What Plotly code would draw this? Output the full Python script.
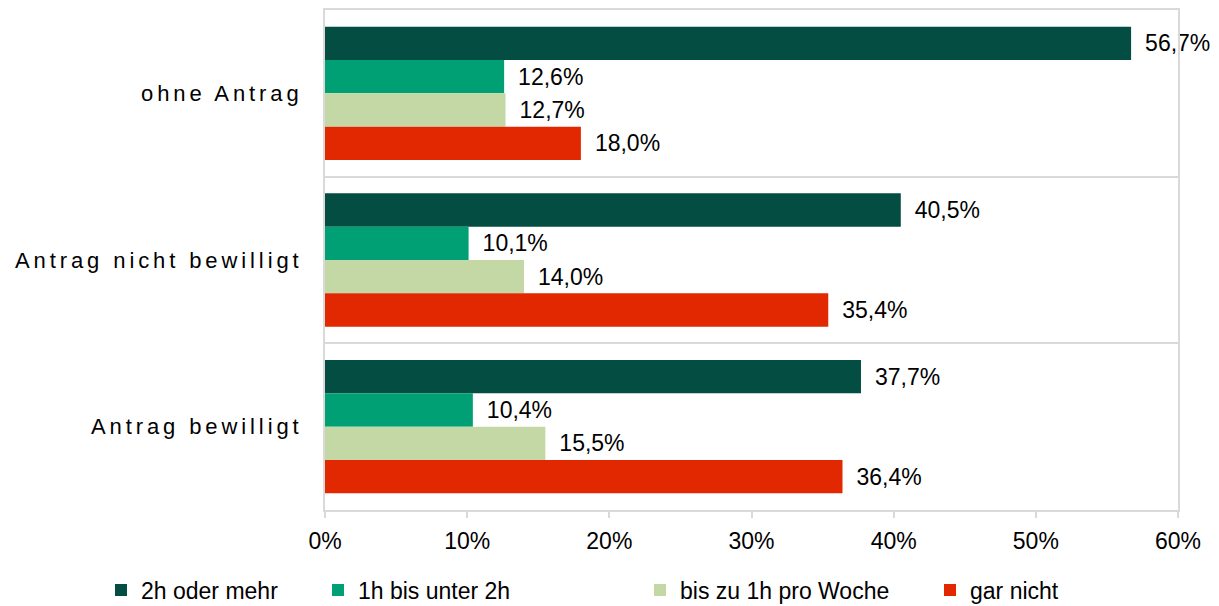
import plotly.graph_objects as go

categories = ["ohne Antrag", "Antrag nicht bewilligt", "Antrag bewilligt"]
series_names = ["2h oder mehr", "1h bis unter 2h", "bis zu 1h pro Woche", "gar nicht"]
val_2h_mehr = [56.7, 40.5, 37.7]
val_1h_2h = [12.6, 10.1, 10.4]
val_bis_1h = [12.7, 14.0, 15.5]
val_gar_nicht = [18.0, 35.4, 36.4]
x_ticks = [0, 10, 20, 30, 40, 50, 60]

colors = ["#044d42", "#00a074", "#c4d8a6", "#e22800"]
values = [val_2h_mehr, val_1h_2h, val_bis_1h, val_gar_nicht]
legend_ids = ["legend", "legend2", "legend3", "legend4"]

W, H = 1219, 606
ML, MR, MT, MB = 325, 41, 10, 96
PW = W - ML - MR
PH = H - MT - MB
FONT = "Liberation Sans, Arial, sans-serif"

fig = go.Figure()
for name, vals, col, lg in zip(series_names, values, colors, legend_ids):
    fig.add_trace(go.Bar(
        y=categories, x=vals, name=name, orientation="h",
        marker=dict(color=col, line=dict(width=0)),
        texttemplate="\u00a0\u2009%{x:.1f}%", textposition="outside",
        textfont=dict(size=23, color="#000000", family=FONT),
        constraintext="none", cliponaxis=False, legend=lg,
    ))

def lx(px):
    return (px - ML) / PW

legend_px = [101, 318, 640, 930]
leg_y = -(590 - (MT + PH)) / PH
legend_common = dict(orientation="h", yanchor="middle", xanchor="left", y=leg_y,
                     font=dict(size=23, color="#000000", family=FONT),
                     bgcolor="rgba(0,0,0,0)", borderwidth=0, itemwidth=30)

fig.update_layout(
    width=W, height=H,
    margin=dict(l=ML, r=MR, t=MT, b=MB, autoexpand=False),
    paper_bgcolor="white", plot_bgcolor="white",
    barmode="group", bargap=0.2, bargroupgap=0,
    separators=",.",
    font=dict(family=FONT, size=23, color="#000000"),
    showlegend=True,
    legend=dict(x=lx(legend_px[0]), **legend_common),
    legend2=dict(x=lx(legend_px[1]), **legend_common),
    legend3=dict(x=lx(legend_px[2]), **legend_common),
    legend4=dict(x=lx(legend_px[3]), **legend_common),
    xaxis=dict(
        range=[0, 60], tickvals=x_ticks, ticktext=[f"{v}%" for v in x_ticks],
        showgrid=False, zeroline=False, automargin=False,
        showline=True, linecolor="#d9d9d9", linewidth=2, mirror=True,
        ticks="outside", ticklen=6, tickwidth=2, tickcolor="#d9d9d9",
        tickfont=dict(size=23, color="#000000"), ticklabelstandoff=3,
    ),
    yaxis=dict(
        autorange="reversed", type="category", automargin=False,
        tickson="boundaries", ticks="", showgrid=True, gridcolor="#d9d9d9", gridwidth=2,
        showline=True, linecolor="#d9d9d9", linewidth=2, mirror=True, zeroline=False,
        tickfont=dict(size=22, color="#000000"), ticklabelstandoff=16,
    ),
)

post = """
document.body.style.margin = '0';
document.body.style.padding = '0';
var gd = document.getElementById('{plot_id}');
function ls(){ gd.querySelectorAll('.ytick text').forEach(function(t){ t.setAttribute('letter-spacing','3.9px'); }); }
ls();
gd.on('plotly_afterplot', ls);
"""
fig.write_html("out.html", post_script=post, config={"displayModeBar": False})
